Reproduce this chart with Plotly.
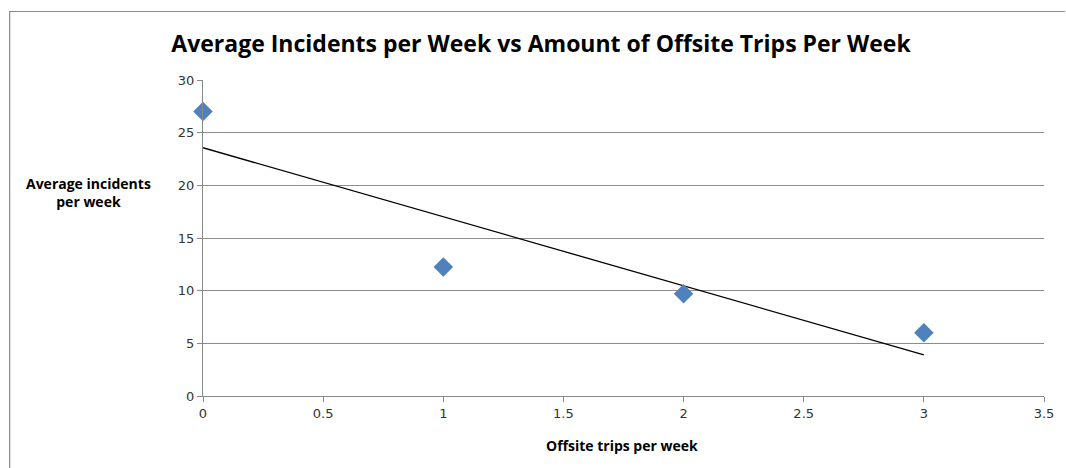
import numpy as np
import plotly.graph_objects as go

trips = [0, 1, 2, 3]
incidents = [27.0, 12.25, 9.7, 6.0]

x_ticks = [0, 0.5, 1, 1.5, 2, 2.5, 3, 3.5]
x_tick_labels = ["0", "0.5", "1", "1.5", "2", "2.5", "3", "3.5"]
y_ticks = [0, 5, 10, 15, 20, 25, 30]

# Excel-style linear trendline fitted to the data
slope, intercept = np.polyfit(trips, incidents, 1)
trend_x = [min(trips), max(trips)]
trend_y = [intercept + slope * v for v in trend_x]

fig = go.Figure()
fig.add_trace(go.Scatter(
    x=trend_x, y=trend_y, mode="lines",
    line=dict(color="#000000", width=1.3), hoverinfo="skip", showlegend=False,
))
fig.add_trace(go.Scatter(
    x=trips, y=incidents, mode="markers",
    marker=dict(symbol="diamond", size=15, color="#4F81BD", line=dict(width=0)),
    showlegend=False, cliponaxis=False,
))

W, H = 1066, 468
L, R, T, B = 203, 17, 80, 72
pw, ph = W - L - R, H - T - B

def px(x):
    return (x - L) / pw

def py(y):
    return (H - B - y) / ph

fig.update_layout(
    width=W, height=H,
    margin=dict(l=L, r=R, t=T, b=B),
    paper_bgcolor="white", plot_bgcolor="white",
    title=dict(
        text="<b>Average Incidents per Week vs Amount of Offsite Trips Per Week</b>",
        xref="container", yref="container",
        x=541 / W, xanchor="center", y=1 - 44 / H, yanchor="middle",
        font=dict(family="Open Sans", size=23, color="#000000"),
    ),
    xaxis=dict(
        range=[0, 3.5], tickvals=x_ticks, ticktext=x_tick_labels,
        showgrid=False, zeroline=False,
        showline=True, linecolor="#888888", linewidth=1,
        ticks="outside", ticklen=5, tickcolor="#888888",
        tickfont=dict(family="DejaVu Sans", size=13, color="#333333"),
    ),
    yaxis=dict(
        range=[0, 30], tickvals=y_ticks,
        showgrid=True, gridcolor="#8c8c8c", gridwidth=1,
        zeroline=False,
        showline=True, linecolor="#888888", linewidth=1,
        ticks="outside", ticklen=5, tickcolor="#888888",
        tickfont=dict(family="DejaVu Sans", size=13, color="#333333"),
    ),
    annotations=[
        dict(text="<b>Average incidents<br>per week</b>", xref="paper", yref="paper",
             x=px(88), y=py(192), xanchor="center", yanchor="middle",
             showarrow=False, align="center",
             font=dict(family="Open Sans", size=14, color="#000000")),
        dict(text="<b>Offsite trips per week</b>", xref="paper", yref="paper",
             x=px(624), y=py(445), xanchor="center", yanchor="middle",
             showarrow=False,
             font=dict(family="Open Sans", size=14, color="#000000")),
    ],
    shapes=[
        dict(type="line", xref="paper", yref="paper",
             x0=px(8), x1=px(1070), y0=py(11.5), y1=py(11.5),
             line=dict(color="#8a8a8a", width=1.2)),
        dict(type="line", xref="paper", yref="paper",
             x0=px(8.5), x1=px(8.5), y0=py(11), y1=py(472),
             line=dict(color="#8a8a8a", width=1.2)),
    ],
)

fig.write_html("out.html")
